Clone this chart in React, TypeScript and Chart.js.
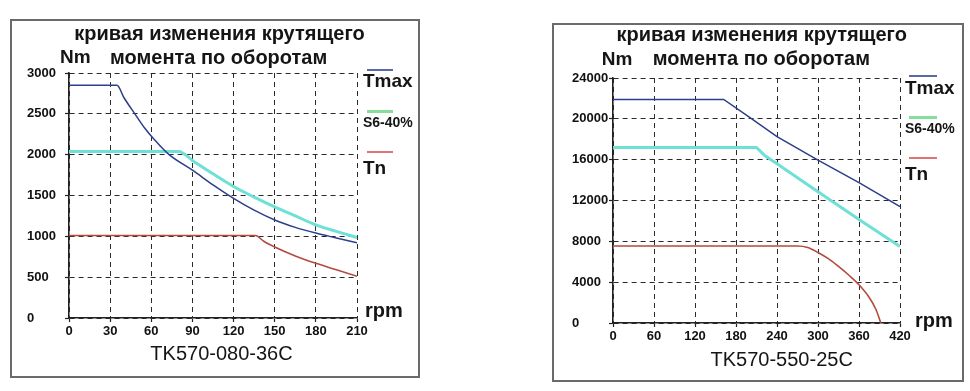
import React, { useEffect, useRef } from "react";
import { Chart, registerables } from "chart.js";

Chart.register(...registerables);

// ---------- shared text ----------
const TITLE_LINE_1 = "кривая изменения крутящего";
const TITLE_LINE_2 = "момента по оборотам";
const Y_UNIT = "Nm";
const X_UNIT = "rpm";
const SERIES_NAMES = ["Tmax", "S6-40%", "Tn"];

// ---------- left chart data ----------
const leftModel = "TK570-080-36C";
const leftXTicks = [0, 30, 60, 90, 120, 150, 180, 210];
const leftYTicks = [0, 500, 1000, 1500, 2000, 2500, 3000];
const leftTmaxRpm = [0, 35, 40, 48, 55, 62, 73, 90, 105, 120, 135, 150, 165, 180, 195, 210];
const leftTmaxNm = [2850, 2850, 2700, 2500, 2330, 2190, 2000, 1810, 1630, 1465, 1320, 1200, 1110, 1040, 980, 920];
const leftS6Rpm = [0, 80, 90, 105, 120, 135, 150, 165, 180, 195, 210];
const leftS6Nm = [2040, 2040, 1930, 1765, 1610, 1480, 1360, 1250, 1140, 1060, 985];
const leftTnRpm = [0, 136, 142, 150, 165, 180, 195, 210];
const leftTnNm = [1010, 1010, 940, 870, 760, 670, 590, 510];

// ---------- right chart data ----------
const rightModel = "TK570-550-25C";
const rightXTicks = [0, 60, 120, 180, 240, 300, 360, 420];
const rightYTicks = [0, 4000, 8000, 12000, 16000, 20000, 24000];
const rightTmaxRpm = [0, 162, 200, 240, 300, 360, 420];
const rightTmaxNm = [21900, 21900, 20150, 18250, 15950, 13750, 11400];
const rightS6Rpm = [0, 210, 222, 240, 300, 360, 420];
const rightS6Nm = [17200, 17200, 16400, 15600, 12850, 10150, 7500];
const rightTnRpm = [0, 270, 285, 300, 315, 330, 345, 360, 375, 385, 392];
const rightTnNm = [7550, 7550, 7400, 6900, 6300, 5550, 4700, 3750, 2500, 1300, 0];

const FONT = '"Liberation Sans", Arial, Helvetica, sans-serif';
const TMAX_COLOR = "#2c3f8c";
const S6_COLOR = "#6fe0d6";
const TN_COLOR = "#b44a3e";

const pts = (xs: number[], ys: number[]) => xs.map((x, i) => ({ x, y: ys[i] }));

type ChartProps = {
  left: number;
  top: number;
  width: number;
  height: number;
  padLeft: number;
  padRight: number;
  padTop: number;
  yWidth: number;
  xHeight: number;
  xTicks: number[];
  yTicks: number[];
  tmax: { x: number; y: number }[];
  s6: { x: number; y: number }[];
  tn: { x: number; y: number }[];
  smoothTop: boolean;
};

function TorqueChart(p: ChartProps) {
  const ref = useRef<HTMLCanvasElement | null>(null);
  useEffect(() => {
    if (!ref.current) return;
    const gridCommon = {
      color: "#2a2a2a",
      lineWidth: 1,
      tickLength: 4,
      tickColor: "#222",
      tickWidth: 1.2,
    };
    const borderCommon = { display: true, color: "#222", width: 1.6, dash: [5, 4] };
    const tickFont = { family: FONT, size: 13, weight: "bold" as const };
    const topMode = p.smoothTop ? "monotone" : "default";
    const topTension = 0;
    const chart = new Chart(ref.current, {
      type: "line",
      data: {
        datasets: [
          { label: SERIES_NAMES[0], data: p.tmax, borderColor: TMAX_COLOR, borderWidth: 1.5, pointRadius: 0, cubicInterpolationMode: topMode, tension: topTension },
          { label: SERIES_NAMES[1], data: p.s6, borderColor: S6_COLOR, borderWidth: 3, pointRadius: 0, cubicInterpolationMode: topMode, tension: topTension },
          { label: SERIES_NAMES[2], data: p.tn, borderColor: TN_COLOR, borderWidth: 1.6, pointRadius: 0, cubicInterpolationMode: "monotone" },
        ],
      },
      options: {
        responsive: false,
        animation: false,
        events: [],
        layout: { padding: { left: p.padLeft, right: p.padRight, top: p.padTop, bottom: 0 } },
        plugins: { legend: { display: false }, tooltip: { enabled: false }, title: { display: false } },
        scales: {
          x: {
            type: "linear",
            min: p.xTicks[0],
            max: p.xTicks[p.xTicks.length - 1],
            grid: gridCommon,
            border: borderCommon,
            afterBuildTicks: (s: any) => {
              s.ticks = p.xTicks.map((v) => ({ value: v }));
            },
            afterFit: (s: any) => {
              s.height = p.xHeight;
            },
            ticks: { color: "#111", font: tickFont, padding: 2, maxRotation: 0, autoSkip: false, callback: (v: any) => String(v) },
          },
          y: {
            type: "linear",
            min: p.yTicks[0],
            max: p.yTicks[p.yTicks.length - 1],
            grid: gridCommon,
            border: borderCommon,
            afterBuildTicks: (s: any) => {
              s.ticks = p.yTicks.map((v) => ({ value: v }));
            },
            afterFit: (s: any) => {
              s.width = p.yWidth;
            },
            ticks: { color: "#111", font: tickFont, crossAlign: "far", autoSkip: false, callback: (v: any) => String(v) },
          },
        },
      },
    } as any);
    return () => chart.destroy();
  }, []);
  return (
    <canvas
      ref={ref}
      width={p.width}
      height={p.height}
      style={{ position: "absolute", left: p.left, top: p.top, width: p.width, height: p.height }}
    />
  );
}

function Txt(props: { x: number; y: number; size: number; bold?: boolean; center?: boolean; children: React.ReactNode }) {
  const { x, y, size, bold, center, children } = props;
  return (
    <div
      style={{
        position: "absolute",
        left: x,
        top: y - 0.8465 * size,
        fontSize: size,
        lineHeight: `${size}px`,
        fontWeight: bold ? 700 : 400,
        fontFamily: FONT,
        color: "#151515",
        whiteSpace: "nowrap",
        transform: center ? "translateX(-50%)" : undefined,
      }}
    >
      {children}
    </div>
  );
}

function Swatch(props: { x1: number; x2: number; y: number; h: number; color: string }) {
  return (
    <div
      style={{
        position: "absolute",
        left: props.x1,
        top: props.y - props.h / 2,
        width: props.x2 - props.x1,
        height: props.h,
        background: props.color,
      }}
    />
  );
}

export default function App() {
  return (
    <div style={{ position: "fixed", left: 0, top: 0, width: 970, height: 391, background: "#fff", overflow: "hidden" }}>
      {/* Left panel */}
      <div style={{ position: "absolute", left: 10, top: 19, width: 406, height: 355, border: "2px solid #6a6a6a" }} />
      <TorqueChart
        left={13}
        top={22}
        width={404}
        height={353}
        padLeft={14}
        padRight={60}
        padTop={51}
        yWidth={42}
        xHeight={57}
        xTicks={leftXTicks}
        yTicks={leftYTicks}
        tmax={pts(leftTmaxRpm, leftTmaxNm)}
        s6={pts(leftS6Rpm, leftS6Nm)}
        tn={pts(leftTnRpm, leftTnNm)}
        smoothTop={true}
      />
      <Txt x={219.5} y={39.5} size={20} bold center>{TITLE_LINE_1}</Txt>
      <Txt x={60} y={63.5} size={19} bold>{Y_UNIT}</Txt>
      <Txt x={110} y={63.5} size={20} bold>{TITLE_LINE_2}</Txt>
      <Txt x={365} y={317} size={20} bold>{X_UNIT}</Txt>
      <Txt x={221.5} y={360} size={20} center>{leftModel}</Txt>
      <Swatch x1={367} x2={393} y={70} h={2} color="#5868a8" />
      <Swatch x1={367} x2={393} y={111} h={3} color="#86dd9c" />
      <Swatch x1={367} x2={393} y={152} h={2} color="#e07474" />
      <Txt x={363} y={87.5} size={19} bold>{SERIES_NAMES[0]}</Txt>
      <Txt x={363} y={127} size={14} bold>{SERIES_NAMES[1]}</Txt>
      <Txt x={363} y={174.5} size={19} bold>{SERIES_NAMES[2]}</Txt>

      {/* Right panel */}
      <div style={{ position: "absolute", left: 552, top: 23, width: 408, height: 355, border: "2px solid #6a6a6a" }} />
      <TorqueChart
        left={555}
        top={26}
        width={406}
        height={353}
        padLeft={17}
        padRight={61}
        padTop={52}
        yWidth={41}
        xHeight={56}
        xTicks={rightXTicks}
        yTicks={rightYTicks}
        tmax={pts(rightTmaxRpm, rightTmaxNm)}
        s6={pts(rightS6Rpm, rightS6Nm)}
        tn={pts(rightTnRpm, rightTnNm)}
        smoothTop={false}
      />
      <Txt x={761.7} y={40.7} size={20} bold center>{TITLE_LINE_1}</Txt>
      <Txt x={601.7} y={65} size={19} bold>{Y_UNIT}</Txt>
      <Txt x={652.7} y={65} size={20} bold>{TITLE_LINE_2}</Txt>
      <Txt x={915} y={326.7} size={20} bold>{X_UNIT}</Txt>
      <Txt x={781.7} y={365.7} size={20} center>{rightModel}</Txt>
      <Swatch x1={909} x2={937} y={76} h={2} color="#5868a8" />
      <Swatch x1={909} x2={937} y={117.3} h={3} color="#86dd9c" />
      <Swatch x1={909} x2={937} y={158.3} h={2} color="#e07474" />
      <Txt x={905} y={94.5} size={19} bold>{SERIES_NAMES[0]}</Txt>
      <Txt x={905} y={132.5} size={14} bold>{SERIES_NAMES[1]}</Txt>
      <Txt x={905} y={180} size={19} bold>{SERIES_NAMES[2]}</Txt>
    </div>
  );
}
